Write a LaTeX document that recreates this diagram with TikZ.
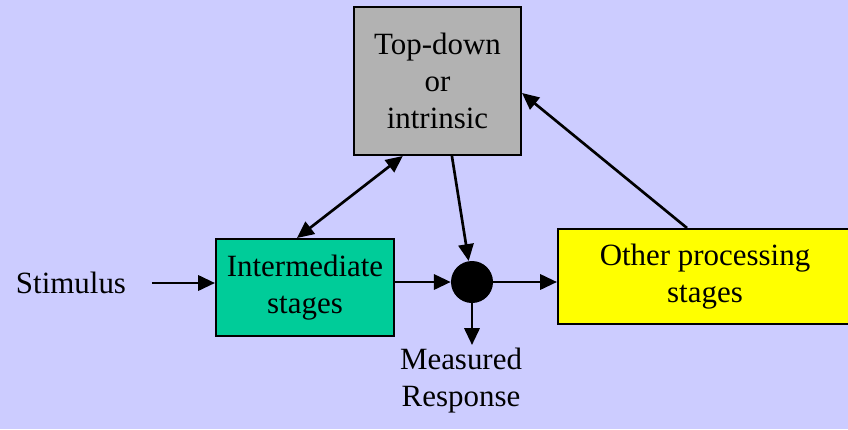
\documentclass[tikz,border=0pt]{standalone}
\usepackage{fontspec}
\setmainfont{Liberation Serif}
\usepackage{tikz}
\usetikzlibrary{arrows.meta}
\definecolor{bgblue}{HTML}{CCCCFF}
\definecolor{boxgray}{HTML}{B2B2B2}
\definecolor{boxteal}{HTML}{00CC99}
\definecolor{boxyellow}{HTML}{FFFF00}

\begin{document}
\begin{tikzpicture}[x=0.025cm,y=-0.025cm,
  every node/.style={font=\rmfamily\fontsize{22}{26.5}\selectfont, align=center},
  stagebox/.style={draw, line width=1.4pt, inner sep=0pt},
  arr/.style={line width=1.9pt, -{Triangle[length=0.42cm,width=0.38cm]}},
  darr/.style={line width=1.9pt, {Triangle[length=0.42cm,width=0.38cm]}-{Triangle[length=0.42cm,width=0.38cm]}}]
\fill [bgblue] (0,0) rectangle (848,429);
\useasboundingbox (0,0) rectangle (848,429);
\node [stagebox, fill=boxgray, minimum width=4.175cm, minimum height=3.7cm] (top) at (437.5,81) {Top-down\\or\\intrinsic};
\node [stagebox, fill=boxteal, minimum width=4.45cm, minimum height=2.425cm] (inter) at (305,287.5) {Intermediate\\stages};
\node [stagebox, fill=boxyellow, minimum width=7.35cm, minimum height=2.375cm] (other) at (705,276.5) {Other processing\\stages};
\node [circle, fill=black, minimum size=1.05cm, inner sep=0pt] (dot) at (472,282) {};
\node (stim) at (71,283) {Stimulus};
\node [inner sep=2pt, anchor=north] (resp) at (461,345) {Measured\\Response};
%\draw (top.south) node[below]{};
\draw [arr, shorten <=0.52cm] (stim.east) -- (stim.east -| inter.west);
\draw [arr] (inter.east |- dot) -- (dot.west);
\draw [arr] (dot.east) -- (dot.east -| other.west);
\draw [arr] (dot.south) -- (dot.south |- resp.north);
\draw [arr] ([xshift=0.36cm]top.south) -- (dot);
\draw [darr] ([xshift=-0.2cm]inter.north) -- ([xshift=-0.87cm]top.south);
\draw [arr] ([xshift=-0.45cm]other.north) -- ([yshift=-0.3cm]top.east);
\end{tikzpicture}
\end{document}
